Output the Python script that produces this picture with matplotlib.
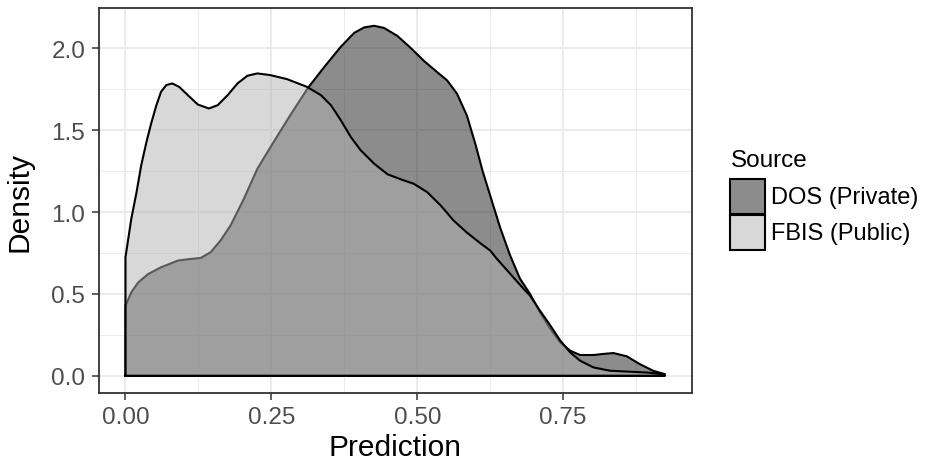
import matplotlib
matplotlib.use("Agg")
import matplotlib.pyplot as plt
from matplotlib.patches import Rectangle

plt.rcParams['font.family'] = ['Liberation Sans', 'DejaVu Sans']

# Density curve of DOS (Private)
dos_x = [0.0, 0.0, 0.010, 0.022, 0.039, 0.061, 0.090, 0.112, 0.129, 0.146, 0.163, 0.180,
         0.203, 0.226, 0.254, 0.282, 0.313, 0.341, 0.369, 0.392, 0.409, 0.426, 0.443,
         0.466, 0.488, 0.511, 0.534, 0.551, 0.568, 0.585, 0.600, 0.612, 0.625, 0.642,
         0.659, 0.676, 0.693, 0.710, 0.728, 0.745, 0.762, 0.779, 0.802, 0.820, 0.836,
         0.859, 0.881, 0.904, 0.924]
dos_y = [0.0, 0.429, 0.510, 0.571, 0.622, 0.663, 0.704, 0.714, 0.720, 0.755, 0.827, 0.918,
         1.082, 1.265, 1.429, 1.590, 1.760, 1.888, 2.010, 2.095, 2.128, 2.138, 2.125,
         2.076, 2.005, 1.925, 1.855, 1.805, 1.724, 1.590, 1.410, 1.250, 1.100, 0.905,
         0.736, 0.593, 0.501, 0.389, 0.286, 0.204, 0.153, 0.127, 0.127, 0.134, 0.139,
         0.119, 0.072, 0.031, 0.010]

# Density curve of FBIS (Public)
fbis_x = [0.0, 0.0, 0.010, 0.019, 0.027, 0.036, 0.044, 0.053, 0.061, 0.070, 0.080, 0.092,
          0.107, 0.124, 0.143, 0.158, 0.175, 0.192, 0.209, 0.226, 0.248, 0.277, 0.311,
          0.335, 0.352, 0.369, 0.386, 0.403, 0.426, 0.449, 0.472, 0.494, 0.517, 0.540,
          0.562, 0.585, 0.608, 0.625, 0.636, 0.659, 0.682, 0.693, 0.710, 0.728, 0.745,
          0.762, 0.779, 0.802, 0.830, 0.864, 0.893, 0.924]
fbis_y = [0.0, 0.724, 0.959, 1.122, 1.286, 1.429, 1.541, 1.653, 1.735, 1.776, 1.786, 1.765,
          1.714, 1.657, 1.633, 1.653, 1.714, 1.786, 1.833, 1.847, 1.837, 1.812, 1.765,
          1.714, 1.653, 1.561, 1.459, 1.378, 1.296, 1.231, 1.200, 1.173, 1.122, 1.041,
          0.949, 0.875, 0.810, 0.765, 0.716, 0.624, 0.532, 0.491, 0.399, 0.307, 0.215,
          0.143, 0.092, 0.051, 0.031, 0.025, 0.020, 0.010]

series_names = ["DOS (Private)", "FBIS (Public)"]
x_ticks = [0.0, 0.25, 0.5, 0.75]
x_tick_labels = ["0.00", "0.25", "0.50", "0.75"]
y_ticks = [0.0, 0.5, 1.0, 1.5, 2.0]
y_tick_labels = ["0.0", "0.5", "1.0", "1.5", "2.0"]

fills = ["#1a1a1a", "#b3b3b3"]
alpha = 0.5

W, H = 925, 464
fig = plt.figure(figsize=(W / 100, H / 100), dpi=100)
ax = fig.add_axes([98.5 / W, 1 - 394.3 / H, (691.7 - 98.5) / W, (394.3 - 9.3) / H])

grid_c = "#ebebeb"
for v in [0.125, 0.375, 0.625, 0.875]:
    ax.axvline(v, color=grid_c, lw=0.7, zorder=0)
for v in [0.25, 0.75, 1.25, 1.75]:
    ax.axhline(v, color=grid_c, lw=0.7, zorder=0)
for v in x_ticks:
    ax.axvline(v, color=grid_c, lw=1.4, zorder=0)
for v in y_ticks:
    ax.axhline(v, color=grid_c, lw=1.4, zorder=0)

for xs, ys, fc in [(dos_x, dos_y, fills[0]), (fbis_x, fbis_y, fills[1])]:
    px = list(xs) + [xs[-1], xs[0]]
    py = list(ys) + [0.0, 0.0]
    ax.fill(px, py, facecolor=fc, alpha=alpha, edgecolor="none", zorder=2)
    ax.plot(px, py, color="black", lw=1.5, zorder=2, solid_joinstyle="round")

xmax = max(max(dos_x), max(fbis_x))
ymax = max(max(dos_y), max(fbis_y))
ax.set_xlim(-0.05 * xmax, 1.05 * xmax)
ax.set_ylim(-0.05 * ymax, 1.05 * ymax)

ax.set_xticks(x_ticks)
ax.set_xticklabels(x_tick_labels)
ax.set_yticks(y_ticks)
ax.set_yticklabels(y_tick_labels)
ax.tick_params(length=5, width=1.1, color="#333333", labelcolor="#4d4d4d",
               labelsize=17.5, pad=4.5)
for s in ax.spines.values():
    s.set_color("#333333")
    s.set_linewidth(1.3)
ax.set_xlabel("Prediction", fontsize=21.5, color="black", labelpad=3)
ax.set_ylabel("Density", fontsize=21.5, color="black", labelpad=12.5)

# legend
fig.text(731 / W, 1 - 160.7 / H, "Source", fontsize=17.5, va="center", ha="left")
key_tops = [180, 216]
for i, name in enumerate(series_names):
    top = key_tops[i]
    fig.patches.append(Rectangle((730 / W, 1 - (top + 35) / H), 35 / W, 35 / H,
                                 transform=fig.transFigure, facecolor="white",
                                 edgecolor="none"))
    fig.patches.append(Rectangle((730 / W, 1 - (top + 35) / H), 35 / W, 35 / H,
                                 transform=fig.transFigure, facecolor=fills[i], alpha=alpha,
                                 edgecolor="none"))
    fig.patches.append(Rectangle((730 / W, 1 - (top + 35) / H), 35 / W, 35 / H,
                                 transform=fig.transFigure, facecolor="none",
                                 edgecolor="black", lw=1.5))
    fig.text(771 / W, 1 - (top + 18) / H, name, fontsize=17, va="center", ha="left")

fig.savefig("out.png", dpi=100)
